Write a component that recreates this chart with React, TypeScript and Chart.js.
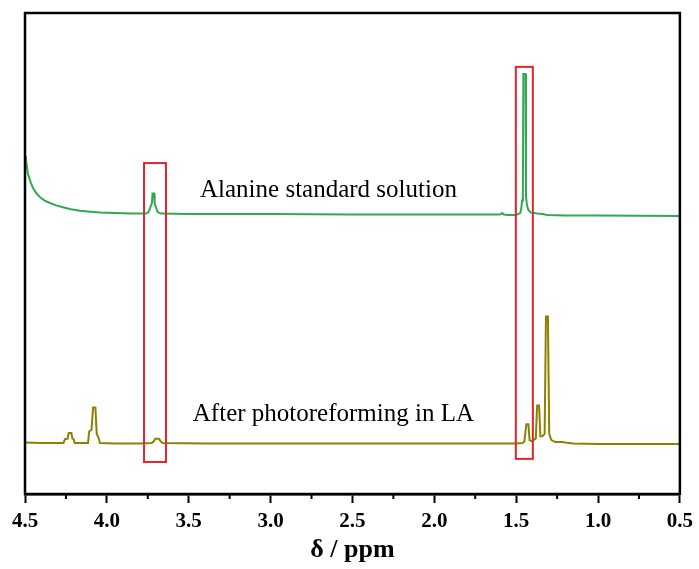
import { useEffect, useRef } from 'react';
import { Chart, registerables } from 'chart.js';

Chart.register(...registerables);

// ---- data (chemical shift in ppm, intensity in arbitrary offset units) ----
const greenPpm = [4.5, 4.494, 4.482, 4.465, 4.451, 4.43, 4.408, 4.38, 4.347, 4.31, 4.268, 4.22, 4.164, 4.1, 4.042, 3.95, 3.85, 3.798, 3.76, 3.745, 3.735, 3.725, 3.721, 3.712, 3.708, 3.7, 3.69, 3.67, 3.5, 3.0, 2.5, 2.0, 1.6, 1.585, 1.575, 1.55, 1.5, 1.475, 1.468, 1.464, 1.459, 1.456, 1.443, 1.44, 1.434, 1.425, 1.41, 1.39, 1.37, 1.34, 1.31, 1.2, 1.0, 0.5];
const greenVal = [70.2, 69.5, 66.5, 64.8, 63.6, 62.5, 61.7, 61.0, 60.5, 60.0, 59.6, 59.2, 58.9, 58.7, 58.5, 58.4, 58.3, 58.3, 58.3, 58.6, 59.6, 60.4, 62.5, 62.5, 60.4, 59.6, 58.6, 58.3, 58.2, 58.2, 58.1, 58.1, 58.1, 58.4, 58.1, 58.0, 58.0, 58.4, 59.5, 61.0, 62.3, 87.3, 87.3, 62.0, 60.0, 59.0, 58.5, 58.4, 58.3, 58.2, 58.0, 57.9, 57.9, 57.8];

const olivePpm = [4.5, 4.4, 4.3, 4.265, 4.256, 4.24, 4.233, 4.217, 4.21, 4.203, 4.196, 4.15, 4.115, 4.108, 4.094, 4.084, 4.07, 4.062, 4.052, 4.042, 3.95, 3.8, 3.725, 3.712, 3.705, 3.682, 3.672, 3.66, 3.4, 3.0, 2.5, 2.0, 1.6, 1.5, 1.46, 1.45, 1.4375, 1.4253, 1.418, 1.405, 1.38, 1.372, 1.36, 1.352, 1.34, 1.326, 1.318, 1.306, 1.298, 1.285, 1.26, 1.22, 1.2, 1.15, 1.0, 0.5];
const oliveVal = [10.7, 10.6, 10.6, 10.6, 11.4, 11.5, 12.7, 12.7, 11.5, 11.4, 10.6, 10.6, 10.6, 13.0, 13.3, 18.0, 18.0, 12.5, 11.8, 10.6, 10.5, 10.5, 10.6, 11.0, 11.5, 11.5, 11.0, 10.6, 10.5, 10.5, 10.5, 10.5, 10.5, 10.5, 10.6, 10.9, 14.5, 14.5, 11.2, 11.0, 11.5, 18.4, 18.4, 12.0, 12.0, 12.5, 36.9, 36.9, 12.5, 11.2, 10.8, 10.8, 10.7, 10.5, 10.4, 10.4];

const seriesNames = ['Alanine standard solution', 'After photoreforming in LA'];
const majorTicks = [4.5, 4.0, 3.5, 3.0, 2.5, 2.0, 1.5, 1.0, 0.5];
const minorTicks = [4.25, 3.75, 3.25, 2.75, 2.25, 1.75, 1.25, 0.75];
const axisTitle = 'δ / ppm';

// ---- annotations ----
const highlightBoxes = [
  { x0: 3.773, x1: 3.639, y0: 6.65, y1: 68.8 },
  { x0: 1.502, x1: 1.398, y0: 7.3, y1: 88.8 },
];
const textLabels = [
  { text: seriesNames[0], x: 3.431, y: 61.7 },
  { text: seriesNames[1], x: 3.475, y: 15.2 },
];

const SERIF = "'Liberation Serif', 'Times New Roman', serif";
const GREEN = '#33a852';
const OLIVE = '#8a8200';
const RED = '#e3262b';

const toPoints = (xs: number[], ys: number[]) => xs.map((x, i) => ({ x, y: ys[i] }));

const decorPlugin = {
  id: 'decor',
  afterDatasetsDraw(chart: any) {
    const { ctx, chartArea, scales } = chart;
    const xs = scales.x;
    const ys = scales.y;
    ctx.save();
    // red highlight boxes
    ctx.strokeStyle = RED;
    ctx.lineWidth = 2;
    highlightBoxes.forEach((b) => {
      const l = xs.getPixelForValue(b.x0);
      const r = xs.getPixelForValue(b.x1);
      const t = ys.getPixelForValue(b.y1);
      const bt = ys.getPixelForValue(b.y0);
      ctx.strokeRect(l, t, r - l, bt - t);
    });
    // text labels
    ctx.fillStyle = '#000';
    ctx.font = `25px ${SERIF}`;
    ctx.textBaseline = 'alphabetic';
    ctx.textAlign = 'left';
    textLabels.forEach((t) => {
      ctx.fillText(t.text, xs.getPixelForValue(t.x), ys.getPixelForValue(t.y));
    });
    // frame
    ctx.strokeStyle = '#000';
    ctx.lineWidth = 2.5;
    ctx.strokeRect(chartArea.left, chartArea.top, chartArea.right - chartArea.left, chartArea.bottom - chartArea.top);
    // minor ticks
    ctx.lineWidth = 2;
    minorTicks.forEach((v) => {
      const px = xs.getPixelForValue(v);
      ctx.beginPath();
      ctx.moveTo(px, chartArea.bottom);
      ctx.lineTo(px, chartArea.bottom + 5);
      ctx.stroke();
    });
    ctx.restore();
  },
};

export default function App() {
  const ref = useRef<HTMLCanvasElement>(null);
  useEffect(() => {
    document.body.style.margin = '0';
    const chart = new Chart(ref.current as HTMLCanvasElement, {
      type: 'scatter',
      data: {
        datasets: [
          {
            label: seriesNames[0],
            data: toPoints(greenPpm, greenVal),
            showLine: true,
            borderColor: GREEN,
            backgroundColor: GREEN,
            borderWidth: 2,
            pointRadius: 0,
            tension: 0,
          },
          {
            label: seriesNames[1],
            data: toPoints(olivePpm, oliveVal),
            showLine: true,
            borderColor: OLIVE,
            backgroundColor: OLIVE,
            borderWidth: 2,
            pointRadius: 0,
            tension: 0,
          },
        ],
      },
      options: {
        responsive: false,
        devicePixelRatio: 1,
        animation: false,
        layout: { padding: { left: 25, right: 19, top: 13, bottom: 0 } },
        plugins: { legend: { display: false }, tooltip: { enabled: false } },
        scales: {
          x: {
            type: 'linear',
            reverse: true,
            min: 0.5,
            max: 4.5,
            afterFit: (s: any) => {
              s.height = 75;
            },
            afterBuildTicks: (s: any) => {
              s.ticks = majorTicks.map((v) => ({ value: v }));
            },
            ticks: {
              color: '#000',
              padding: 6,
              maxRotation: 0,
              autoSkip: false,
              font: { family: SERIF, size: 21, weight: 'bold' },
              callback: (v: any) => Number(v).toFixed(1),
            },
            grid: {
              drawOnChartArea: false,
              drawTicks: true,
              tickLength: 9,
              tickWidth: 2,
              tickColor: '#000',
            },
            border: { display: true, color: '#000', width: 2.5 },
            title: {
              display: true,
              text: axisTitle,
              color: '#000',
              font: { family: SERIF, size: 26, weight: 'bold' },
              padding: { top: 0, bottom: 3 },
            },
          },
          y: {
            display: false,
            min: 0,
            max: 100,
          },
        },
      },
      plugins: [decorPlugin],
    } as any);
    return () => chart.destroy();
  }, []);
  return (
    <div style={{ position: 'absolute', left: 0, top: 0, width: 699, height: 569, background: '#fff' }}>
      <canvas ref={ref} width={699} height={569} style={{ display: 'block', width: 699, height: 569 }} />
    </div>
  );
}
